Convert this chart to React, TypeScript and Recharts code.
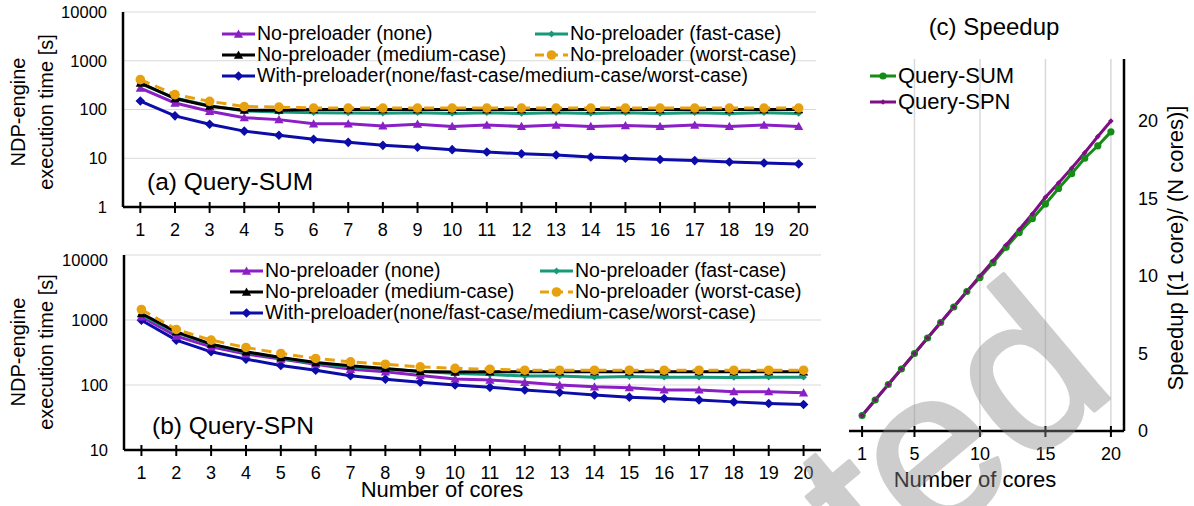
import React from 'react'
import { LineChart, Line, XAxis, YAxis, CartesianGrid, Legend, ReferenceLine } from 'recharts'

// x values shared by every panel
const cores = [1, 2, 3, 4, 5, 6, 7, 8, 9, 10, 11, 12, 13, 14, 15, 16, 17, 18, 19, 20]

// (a) Query-SUM execution time [s]
const sumNone = [276, 136, 92, 68, 62, 51, 51, 46, 50, 45, 48, 45, 48, 45, 47, 45, 48, 45, 48, 45]
const sumFast = [340, 172, 120, 93, 89, 86, 85, 84, 86, 83, 86, 83, 86, 83, 86, 83, 86, 83, 86, 83]
const sumMedium = [350, 168, 117, 97, 97, 100, 100, 100, 100, 100, 100, 100, 100, 100, 100, 100, 100, 100, 100, 100]
const sumWorst = [410, 202, 147, 115, 112, 107, 107, 107, 107, 107, 107, 107, 107, 107, 107, 107, 107, 107, 107, 107]
const sumWith = [149, 74, 50, 36, 29.6, 24.5, 21.2, 18.4, 16.8, 15, 13.4, 12.4, 11.7, 10.6, 10, 9.4, 8.95, 8.4, 8, 7.6]

// (b) Query-SPN execution time [s]
const spnNone = [1120, 564, 386, 299, 250, 209, 175, 160, 140, 124, 119, 110, 100, 94, 91, 84, 84, 79, 79, 76]
const spnFast = [1200, 640, 420, 320, 260, 215, 190, 175, 163, 150, 145, 137, 137, 132, 135, 132, 132, 131, 132, 132]
const spnMedium = [1260, 657, 425, 324, 265, 222, 197, 180, 162, 158, 160, 160, 160, 160, 160, 160, 160, 160, 160, 160]
const spnWorst = [1450, 715, 490, 378, 306, 256, 227, 209, 190, 180, 175, 169, 169, 169, 169, 169, 169, 169, 169, 169]
const spnWith = [993, 490, 324, 250, 200, 169, 139, 123, 110, 100, 92, 84, 77, 70, 65, 62, 59, 55, 52, 50]

// (c) speedup
const speedupSum = [1, 2, 3, 4, 5, 6, 7, 8, 9, 9.9, 10.86, 11.85, 12.8, 13.7, 14.65, 15.65, 16.6, 17.6, 18.4, 19.3]
const speedupSpn = [1, 2, 3, 4, 5, 6, 7, 8, 9, 10, 10.97, 12, 13, 14, 15.08, 16, 16.95, 17.95, 19, 20]

const logTicksA = [1, 10, 100, 1000, 10000]
const logTicksB = [10, 100, 1000, 10000]
const speedTicksX = [1, 5, 10, 15, 20]
const speedTicksY = [0, 5, 10, 15, 20]
const speedGrid = [5, 10, 15, 20]

const FONT = '"Liberation Sans", Arial, Helvetica, sans-serif'
const PURPLE = '#8a1fc6'
const GREEN = '#17997a'
const BLACK = '#000000'
const ORANGE = '#e8a10e'
const BLUE = '#0c0ca8'
const SUM_GREEN = '#158c15'
const SPN_PURPLE = '#7d0f82'

type Shape = 'triangle' | 'diamond' | 'smallDiamond' | 'circle' | 'dot' | 'tinyDiamond'

function Marker({ cx, cy, shape, color }: { cx: number; cy: number; shape: Shape; color: string }) {
  if (cx == null || cy == null || isNaN(cx) || isNaN(cy)) return null
  if (shape === 'triangle') {
    const s = 4.6
    return <path d={`M${cx},${cy - s}L${cx + s},${cy + s * 0.8}L${cx - s},${cy + s * 0.8}Z`} fill={color} />
  }
  if (shape === 'diamond' || shape === 'smallDiamond' || shape === 'tinyDiamond') {
    const s = shape === 'diamond' ? 4.8 : shape === 'smallDiamond' ? 3.4 : 2.8
    return <path d={`M${cx},${cy - s}L${cx + s},${cy}L${cx},${cy + s}L${cx - s},${cy}Z`} fill={color} />
  }
  if (shape === 'dot') return <circle cx={cx} cy={cy} r={3.6} fill={color} />
  return <circle cx={cx} cy={cy} r={4.8} fill={color} />
}

const makeDot = (shape: Shape, color: string) => (props: any) =>
  <Marker key={`${shape}-${props.index}`} cx={props.cx} cy={props.cy} shape={shape} color={color} />

type Series = { key: string; name: string; values: number[]; color: string; shape: Shape; dashed?: boolean }

const seriesFor = (none: number[], fast: number[], medium: number[], worst: number[], withP: number[]): Series[] => [
  { key: 'none', name: 'No-preloader (none)', values: none, color: PURPLE, shape: 'triangle' },
  { key: 'fast', name: 'No-preloader (fast-case)', values: fast, color: GREEN, shape: 'smallDiamond' },
  { key: 'medium', name: 'No-preloader (medium-case)', values: medium, color: BLACK, shape: 'triangle' },
  { key: 'worst', name: 'No-preloader (worst-case)', values: worst, color: ORANGE, shape: 'circle', dashed: true },
  { key: 'with', name: 'With-preloader(none/fast-case/medium-case/worst-case)', values: withP, color: BLUE, shape: 'diamond' },
]

const sumSeries = seriesFor(sumNone, sumFast, sumMedium, sumWorst, sumWith)
const spnSeries = seriesFor(spnNone, spnFast, spnMedium, spnWorst, spnWith)
const speedSeries: Series[] = [
  { key: 'sum', name: 'Query-SUM', values: speedupSum, color: SUM_GREEN, shape: 'dot' },
  { key: 'spn', name: 'Query-SPN', values: speedupSpn, color: SPN_PURPLE, shape: 'tinyDiamond' },
]

const toRows = (series: Series[]) =>
  cores.map((c, i) => {
    const row: Record<string, number> = { cores: c }
    series.forEach((s) => { row[s.key] = s.values[i] })
    return row
  })

const drawOrder = ['with', 'none', 'fast', 'medium', 'worst']

function LegendIcon({ s, width }: { s: Series; width: number }) {
  return (
    <svg width={width} height={14} style={{ display: 'block', flex: 'none' }}>
      <line x1={0} x2={width} y1={7} y2={7} stroke={s.color} strokeWidth={3} strokeDasharray={s.dashed ? '9 5' : undefined} />
      <Marker cx={width / 2} cy={7} shape={s.shape} color={s.color} />
    </svg>
  )
}

function LegendEntry({ s, iconWidth, fontSize, rowHeight, width }: { s: Series; iconWidth: number; fontSize: number; rowHeight: number; width?: number }) {
  return (
    <div style={{ display: 'flex', alignItems: 'center', height: rowHeight, width, whiteSpace: 'nowrap' }}>
      <LegendIcon s={s} width={iconWidth} />
      <span style={{ marginLeft: 2, fontSize, fontFamily: FONT, color: '#000' }}>{s.name}</span>
    </div>
  )
}

function TimeLegend({ series, colWidth }: { series: Series[]; colWidth: number }) {
  const byKey = (k: string) => series.find((s) => s.key === k) as Series
  const common = { iconWidth: 33, fontSize: 19.5, rowHeight: 21 }
  return (
    <div>
      <div style={{ display: 'flex' }}>
        <LegendEntry s={byKey('none')} width={colWidth} {...common} />
        <LegendEntry s={byKey('fast')} {...common} />
      </div>
      <div style={{ display: 'flex' }}>
        <LegendEntry s={byKey('medium')} width={colWidth} {...common} />
        <LegendEntry s={byKey('worst')} {...common} />
      </div>
      <LegendEntry s={byKey('with')} {...common} />
    </div>
  )
}

function CoreTick(props: any) {
  const { x, y, payload } = props
  return (
    <g>
      <line x1={x} x2={x} y1={y - 5} y2={y + 6} stroke="#000" strokeWidth={2} />
      <text x={x} y={y + 29} textAnchor="middle" fontSize={18} fontFamily={FONT} fill="#000">{payload.value}</text>
    </g>
  )
}

const axisLine = { stroke: '#000', strokeWidth: 2.5 }

function TimePanel({ series, ticks, domain, height, margin, yWidth, legendPos, colWidth }: any) {
  const data = toRows(series)
  const ordered = drawOrder.map((k) => series.find((s: Series) => s.key === k) as Series)
  return (
    <LineChart width={830} height={height} data={data} margin={margin}>
      <CartesianGrid vertical={false} stroke="#d9d9d9" strokeWidth={1.2} />
      <XAxis dataKey="cores" type="number" domain={[0.5, 20.5]} ticks={cores} interval={0} allowDataOverflow
        height={height - margin.top - margin.bottom - (margin.plotH as number)} tickSize={0} tickMargin={0} tick={<CoreTick />} axisLine={axisLine} />
      <XAxis xAxisId="top" orientation="top" type="number" domain={[0, 1]} height={0} tick={false} tickLine={false} axisLine={axisLine} />
      <YAxis type="number" scale="log" domain={domain} ticks={ticks} allowDataOverflow width={yWidth}
        tickSize={0} tickMargin={16} tickLine={false} axisLine={axisLine}
        tick={{ fontSize: 16.5, fill: '#000', fontFamily: FONT }} />
      <YAxis yAxisId="right" orientation="right" type="number" domain={[0, 1]} width={0} tick={false} tickLine={false} axisLine={axisLine} />
      {ordered.map((s: Series) => (
        <Line key={s.key} dataKey={s.key} name={s.name} stroke={s.color} strokeWidth={3}
          strokeDasharray={s.dashed ? '10 6' : undefined} dot={makeDot(s.shape, s.color)}
          activeDot={false} isAnimationActive={false} />
      ))}
      <Legend layout="vertical" align="center" verticalAlign="middle"
        wrapperStyle={{ left: legendPos.left, top: legendPos.top, width: 600 }}
        content={() => <TimeLegend series={series} colWidth={colWidth} />} />
    </LineChart>
  )
}

function SpeedupPanel() {
  const data = toRows(speedSeries)
  return (
    <LineChart width={364} height={506} data={data} margin={{ top: 59, right: 0, bottom: 45, left: 19 }}>
      {speedGrid.map((v) => (
        <ReferenceLine key={v} x={v} yAxisId="sp" stroke="#d9d9d9" strokeWidth={1.5} />
      ))}
      <XAxis dataKey="cores" type="number" domain={[0, 21]} ticks={speedTicksX} interval={0} allowDataOverflow
        height={30} tickSize={0} tickMargin={0} tick={<CoreTick />} axisLine={axisLine} />
      <XAxis xAxisId="top" orientation="top" type="number" domain={[0, 1]} height={0} tick={false} tickLine={false} axisLine={axisLine} />
      <YAxis yAxisId="left" orientation="left" type="number" domain={[0, 1]} width={0} tick={false} tickLine={false} axisLine={axisLine} />
      <YAxis yAxisId="sp" orientation="right" type="number" domain={[0, 24]} ticks={speedTicksY} allowDataOverflow width={70}
        tickSize={0} tickMargin={14} tickLine={false} axisLine={axisLine}
        tick={{ fontSize: 18, fill: '#000', fontFamily: FONT }} />
      {speedSeries.map((s) => (
        <Line key={s.key} yAxisId="sp" dataKey={s.key} name={s.name} stroke={s.color} strokeWidth={3}
          dot={makeDot(s.shape, s.color)} activeDot={false} isAnimationActive={false} />
      ))}
      <Legend layout="vertical" align="center" verticalAlign="middle"
        wrapperStyle={{ left: 40, top: 63, width: 200 }}
        content={() => (
          <div>
            {speedSeries.map((s) => (
              <LegendEntry key={s.key} s={s} iconWidth={26} fontSize={22} rowHeight={26} />
            ))}
          </div>
        )} />
    </LineChart>
  )
}

export default function App() {
  const txt = { fontFamily: FONT, fill: '#000' }
  return (
    <div style={{ position: 'absolute', left: 0, top: 0, width: 1194, height: 506, background: '#fff', overflow: 'hidden' }}>
      <div style={{ position: 'absolute', left: 0, top: 0 }}>
        <TimePanel series={sumSeries} ticks={logTicksA} domain={[1, 10000]} height={250}
          margin={{ top: 12, right: 14, bottom: 0, left: 0, plotH: 195 }} yWidth={123}
          legendPos={{ left: 222, top: 23 }} colWidth={313} />
      </div>
      <div style={{ position: 'absolute', left: 0, top: 250 }}>
        <TimePanel series={spnSeries} ticks={logTicksB} domain={[10, 10000]} height={256}
          margin={{ top: 5, right: 9, bottom: 0, left: 0, plotH: 195 }} yWidth={124}
          legendPos={{ left: 230, top: 10 }} colWidth={310} />
      </div>
      <div style={{ position: 'absolute', left: 830, top: 0 }}>
        <SpeedupPanel />
      </div>
      <svg width={1194} height={506} style={{ position: 'absolute', left: 0, top: 0, pointerEvents: 'none' }}>
        <g fontSize={20} {...txt} textAnchor="middle">
          <text transform="translate(25,112) rotate(-90)">NDP-engine</text>
          <text transform="translate(53,112) rotate(-90)">execution time [s]</text>
          <text transform="translate(25,352) rotate(-90)">NDP-engine</text>
          <text transform="translate(53,352) rotate(-90)">execution time [s]</text>
        </g>
        <text x={147} y={190} fontSize={24.5} {...txt}>(a) Query-SUM</text>
        <text x={152} y={434} fontSize={24.5} {...txt}>(b) Query-SPN</text>
        <text x={442} y={497} fontSize={22} textAnchor="middle" {...txt}>Number of cores</text>
        <text x={975} y={487} fontSize={22} textAnchor="middle" {...txt}>Number of cores</text>
        <text x={994} y={35} fontSize={24} textAnchor="middle" {...txt}>(c) Speedup</text>
        <text transform="translate(1183,248) rotate(-90)" fontSize={22} textAnchor="middle" {...txt}>Speedup [(1 core)/ (N cores)]</text>
        <g opacity={0.42}>
          <text transform="translate(1120,389) rotate(-40)" fontSize={225} textAnchor="end" fontFamily={FONT}
            fill="#8a8a8a" stroke="#8a8a8a" strokeWidth={4} strokeLinejoin="round">Accepted</text>
        </g>
      </svg>
    </div>
  )
}
